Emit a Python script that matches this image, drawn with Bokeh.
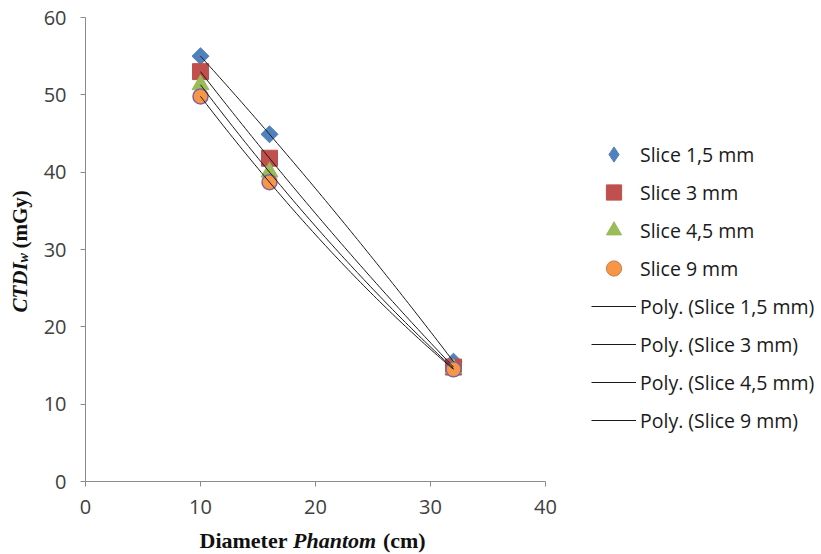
import numpy as np
from bokeh.plotting import figure
from bokeh.models import Range1d, Legend, LegendItem, Label, FixedTicker
from bokeh.embed import file_html
from bokeh.resources import INLINE

# ---- data ----
diameter = [10, 16, 32]
slice_1_5 = [55.0, 44.9, 15.5]
slice_3 = [53.0, 41.8, 14.8]
slice_4_5 = [51.3, 40.0, 14.6]
slice_9 = [49.8, 38.7, 14.5]
series_names = ["Slice 1,5 mm", "Slice 3 mm", "Slice 4,5 mm", "Slice 9 mm"]
trend_names = ["Poly. (Slice 1,5 mm)", "Poly. (Slice 3 mm)", "Poly. (Slice 4,5 mm)", "Poly. (Slice 9 mm)"]
x_ticks = [0, 10, 20, 30, 40]
y_ticks = [0, 10, 20, 30, 40, 50, 60]

series = [slice_1_5, slice_3, slice_4_5, slice_9]

SANS = "Open Sans"
SERIF = "Liberation Serif"

# layout (pixels): plotting area of the axes inside the 821x554 canvas
W, H = 821, 554
AX_L, AX_R, AX_T, AX_B = 85, 545, 17, 481
X0, X1 = x_ticks[0], x_ticks[-1]
Y0, Y1 = y_ticks[0], y_ticks[-1]
sx = (AX_R - AX_L) / (X1 - X0)
sy = (AX_B - AX_T) / (Y1 - Y0)
x_range = Range1d(X0 - AX_L / sx, X1 + (W - AX_R) / sx)
y_range = Range1d(Y0 - (H - AX_B) / sy, Y1 + AX_T / sy)

p = figure(width=W, height=H, x_range=x_range, y_range=y_range,
           output_backend="svg", toolbar_location=None, min_border=0)
p.outline_line_color = None
p.xgrid.visible = False
p.ygrid.visible = False
p.background_fill_color = "white"
p.border_fill_color = "white"

p.xaxis.fixed_location = Y0
p.yaxis.fixed_location = X0
p.xaxis.bounds = (X0, X1)
p.yaxis.bounds = (Y0, Y1)

for ax, ticks in ((p.xaxis[0], x_ticks), (p.yaxis[0], y_ticks)):
    ax.ticker = FixedTicker(ticks=ticks)
    ax.axis_line_color = "#8c8c8c"
    ax.major_tick_line_color = "#8c8c8c"
    ax.minor_tick_line_color = None
    ax.major_tick_out = 5
    ax.major_tick_in = 0
    ax.major_label_text_font = SANS
    ax.major_label_text_font_size = "20px"
    ax.major_label_text_color = "#404040"
p.yaxis.major_label_standoff = 14
p.xaxis.major_label_standoff = 13

# markers in the plot
styles = [
    dict(marker="square", angle=np.pi / 4, size=12, fill_color="#4F81BD", line_color="#4F81BD"),
    dict(marker="square", size=16, fill_color="#C0504D", line_color="#C0504D"),
    dict(marker="triangle", size=17, fill_color="#9BBB59", line_color="#9BBB59"),
    dict(marker="circle", size=15, fill_color="#F79646", line_color="#8064A2", line_width=1.5),
]
# markers as shown in the legend (hidden renderers, legend-only)
legend_styles = [
    dict(marker="diamond", size=15, fill_color="#4F81BD", line_color="#4F81BD"),
    dict(marker="square", size=14, fill_color="#C0504D", line_color="#C0504D"),
    dict(marker="triangle", size=15, fill_color="#9BBB59", line_color="#9BBB59"),
    dict(marker="circle", size=14, fill_color="#F79646", line_color="#C87A40", line_width=1),
]

for vals, st in zip(series, styles):
    p.scatter(x=diameter, y=vals, **st)

legend_marker_renderers = []
for vals, st in zip(series, legend_styles):
    r = p.scatter(x=diameter, y=vals, **st)
    r.visible = False
    legend_marker_renderers.append(r)

# polynomial (order 2) trend lines
trend_renderers = []
for vals in series:
    coeffs = np.polyfit(diameter, vals, 2)
    xs = np.linspace(min(diameter), max(diameter), 80)
    ys = np.polyval(coeffs, xs)
    trend_renderers.append(p.line(x=xs, y=ys, line_color="#1a1a1a", line_width=1))

items = [LegendItem(label=n, renderers=[r]) for n, r in zip(series_names, legend_marker_renderers)]
items += [LegendItem(label=n, renderers=[r]) for n, r in zip(trend_names, trend_renderers)]
legend = Legend(items=items, location=(591, H - 439), glyph_width=45, glyph_height=38,
                label_height=38, spacing=0, padding=0, margin=0, label_standoff=4,
                label_text_font=SANS, label_text_font_size="19.5px", label_text_color="#1a1a1a",
                border_line_color=None, background_fill_alpha=0, inactive_fill_alpha=0)
p.add_layout(legend, "center")

# x axis title: "Diameter Phantom (cm)"
xt_y = H - 540
xt_x = 199
fs = "22px"
p.add_layout(Label(x=xt_x, y=xt_y, x_units="screen", y_units="screen", text="Diameter",
                   text_font=SERIF, text_font_style="bold", text_font_size=fs,
                   text_baseline="alphabetic", text_align="left", text_color="#111111"))
p.add_layout(Label(x=xt_x + 93.5, y=xt_y, x_units="screen", y_units="screen", text="Phantom",
                   text_font=SERIF, text_font_style="bold italic", text_font_size=fs,
                   text_baseline="alphabetic", text_align="left", text_color="#111111"))
p.add_layout(Label(x=xt_x + 93.5 + 84.4 + 5.5, y=xt_y, x_units="screen", y_units="screen", text="(cm)",
                   text_font=SERIF, text_font_style="bold", text_font_size=fs,
                   text_baseline="alphabetic", text_align="left", text_color="#111111"))

# y axis title: "CTDI_w (mGy)" rotated
yt_x = 19
yt_y = H - 312
p.add_layout(Label(x=yt_x, y=yt_y, x_units="screen", y_units="screen", text="CTDI", angle=np.pi / 2,
                   text_font=SERIF, text_font_style="bold italic", text_font_size="21px",
                   text_baseline="alphabetic", text_align="left", text_color="#111111"))
p.add_layout(Label(x=yt_x + 4, y=yt_y + 50, x_units="screen", y_units="screen", text="w", angle=np.pi / 2,
                   text_font=SERIF, text_font_style="bold italic", text_font_size="14px",
                   text_baseline="alphabetic", text_align="left", text_color="#111111"))
p.add_layout(Label(x=yt_x, y=yt_y + 64, x_units="screen", y_units="screen", text="(mGy)", angle=np.pi / 2,
                   text_font=SERIF, text_font_style="bold", text_font_size="21px",
                   text_baseline="alphabetic", text_align="left", text_color="#111111"))

open("out.html", "w").write(file_html(p, INLINE))
